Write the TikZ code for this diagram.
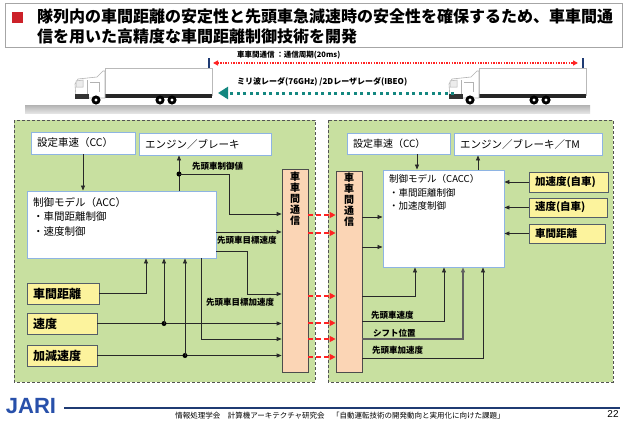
\documentclass[tikz,border=0pt]{standalone}
\usepackage{fontspec}
\setmainfont{Noto Sans CJK JP}
\newfontfamily\logofont{Liberation Sans}
\usetikzlibrary{arrows.meta,calc}

\definecolor{panelgreen}{RGB}{200,224,160}
\definecolor{peach}{RGB}{251,213,181}
\definecolor{softyellow}{RGB}{252,243,157}
\definecolor{boxblue}{RGB}{142,180,227}
\definecolor{slateline}{RGB}{84,94,104}
\definecolor{titlered}{RGB}{204,33,41}
\definecolor{linkred}{RGB}{255,35,35}
\definecolor{radarteal}{RGB}{20,135,128}
\definecolor{navyline}{RGB}{31,59,115}
\definecolor{wire}{RGB}{40,40,40}
\definecolor{jariblue}{RGB}{40,80,170}

\newcommand{\fsz}[1]{\fontsize{#1}{#1}\selectfont}

\tikzset{
  panel/.style={draw=gray!65!black, fill=panelgreen, line width=0.8pt, dash pattern=on 3pt off 2pt},
  wbox/.style={draw=boxblue, fill=white, line width=0.9pt, inner xsep=6pt, inner ysep=0pt, align=left, font=\fsz{10.5}},
  ybox/.style={draw=slateline, fill=softyellow, line width=0.9pt, inner xsep=6pt, inner ysep=0pt, align=left},
  commbox/.style={draw=gray!60!black, fill=peach, line width=0.8pt},
  vtext/.style={align=center, font=\fontsize{10}{11}\selectfont\bfseries, inner sep=0pt},
  sig/.style={draw=wire, line width=0.8pt, -{Triangle[length=5pt,width=4pt]}},
  link/.style={draw=linkred, line width=1.6pt, dash pattern=on 5pt off 3pt, -{Triangle[length=6pt,width=6pt]}},
  jdot/.style={circle, fill=black, inner sep=0pt, minimum size=5pt},
  lbl/.style={font=\fsz{8.5}\bfseries, inner sep=0pt},
  lorry/.pic={
    % trailer body
    \draw[gray!55, fill=white, line width=0.6pt] (30,0) rectangle (137,27);
    % chassis rail
    \fill[black!85] (13,26) rectangle (137,30);
    % cab with roof fairing
    \draw[gray!60, fill=white, line width=0.6pt]
      (1,30) -- (0,16) -- (3,11) -- (22,9) -- (28,3) -- (30,3) -- (30,30) -- cycle;
    \draw[gray!60, fill=gray!15, line width=0.5pt] (1,13) -- (8,12) -- (8,19) -- (1,19) -- cycle;
    \draw[gray!60, line width=0.5pt] (12,12) -- (12,26) (15,14) -- (24,14) -- (24,24);
    \fill[black!80] (0,26) rectangle (14,31);
    % wheels
    \foreach \wx in {21,85,97} {
      \fill[black] (\wx,32) circle (4.6);
      \fill[white] (\wx,32) circle (1.6);
    }
  }
}

\begin{document}
\begin{tikzpicture}[x=1pt,y=-1pt]
\useasboundingbox (0,0) rectangle (627,423);
\fill[white] (0,0) rectangle (627,423);

% ---------- heading ----------
\node[draw=gray!70, line width=0.8pt, minimum width=617pt, minimum height=44pt, inner sep=0pt] (head) at (313.5,25.5) {};
\node[fill=titlered, minimum size=11pt, inner sep=0pt] (hmark) at (17.5,17.5) {};
\node[anchor=west, align=left, font=\fontsize{16}{19.5}\selectfont\bfseries, inner sep=0pt] (htext) at (37,26.5)
  {隊列内の車間距離の安定性と先頭車急減速時の安全性を確保するため、車車間通\\信を用いた高精度な車間距離制御技術を開発};

% ---------- platoon sketch ----------
\shade[top color=gray!60, bottom color=gray!22] (25,105) rectangle (590,113);
\pic at (75,68) {lorry};
\pic at (449,68) {lorry};

\coordinate (tL1) at (209,58); \coordinate (tL2) at (209,68);
\coordinate (tR1) at (583,58); \coordinate (tR2) at (583,68);
\draw[navyline, line width=1.6pt] (tL1) -- (tL2);
\draw[navyline, line width=1.6pt] (tR1) -- (tR2);

\coordinate (rl) at (213,63); \coordinate (rr) at (578,63);
\draw[linkred, line width=1.3pt, dash pattern=on 1.4pt off 1.2pt,
      {Triangle[length=5pt,width=5pt]}-{Triangle[length=5pt,width=5pt]}] (rl) -- (rr);
\node[anchor=west, font=\fsz{7.5}\bfseries, inner sep=0pt] (commtxt) at (237,55) {車車間通信 ：通信周期(20ms)};

\coordinate (ml) at (218,93); \coordinate (mr) at (454,93);
\draw[radarteal, line width=3pt, dash pattern=on 3pt off 3.5pt, -{Triangle[length=10pt,width=12pt]}] (mr) -- (ml);
\node[anchor=west, font=\fsz{8}\bfseries, inner sep=0pt] (radartxt) at (237,82) {ミリ波レーダ(76GHz) /2Dレーザレーダ(IBEO)};

% ---------- vehicle panels ----------
\draw[panel] (14,120) rectangle (315,382);
\draw[panel] (328,120) rectangle (613,382);

% ---------- leading vehicle (ACC) ----------
\node[wbox, minimum width=104pt, minimum height=22pt, text width=92pt] (cc1) at (83,143) {設定車速（CC）};
\node[wbox, minimum width=132pt, minimum height=22pt, text width=120pt] (eng1) at (205,144) {エンジン／ブレーキ};
\node[wbox, minimum width=189pt, minimum height=67pt] (acc) at (121.5,224.5) {};
\node[anchor=north west, align=left, font=\fontsize{10.5}{14.5}\selectfont, inner sep=0pt] (acctxt) at (33,197)
  {制御モデル（ACC）\\・車間距離制御\\・速度制御};

\node[commbox, minimum width=26pt, minimum height=203pt] (comm1) at (295,270.5) {};
\node[vtext, anchor=north] (comm1txt) at (295,172) {車\\車\\間\\通\\信};

\node[ybox, font=\fsz{12}\bfseries, minimum width=72pt, minimum height=21pt, text width=60pt] (gap1) at (63,293.5) {車間距離};
\node[ybox, font=\fsz{12}\bfseries, minimum width=70pt, minimum height=21pt, text width=58pt] (spd1) at (62,323.5) {速度};
\node[ybox, font=\fsz{12}\bfseries, minimum width=70pt, minimum height=21pt, text width=58pt] (acl1) at (62,355.5) {加減速度};

\draw[sig] (cc1.south) -- (cc1.south |- acc.north);

\coordinate (k1) at (179,174);
\draw[sig] (k1 |- acc.north) -- (k1 |- eng1.south);
\node[jdot] (j1) at (k1) {};
\coordinate (k2) at (229,214);
\draw[sig] (j1.center) -| (k2) -- (k2 -| comm1.west);
\node[lbl, anchor=west] (l1) at (192,166) {先頭車制御値};

\coordinate (k3) at (0,232);
\draw[sig] (acc.east |- k3) -- (comm1.west |- k3);
\node[lbl, anchor=west] (l2) at (217,240) {先頭車目標速度};

\coordinate (k4) at (247,251);
\coordinate (k5) at (247,294);
\draw[sig] (acc.east |- k4) -- (k4) -- (k5) -- (comm1.west |- k5);
\node[lbl, anchor=west] (l3) at (206,302) {先頭車目標加速度};

\coordinate (k6) at (201,339);
\draw[sig] (acc.south -| k6) -- (k6) -- (comm1.west |- k6);

\coordinate (k7) at (146,0);
\draw[sig] (gap1.east) -| (acc.south -| k7);

\coordinate (k8) at (164,0);
\draw[sig] (spd1.east) -- (spd1.east -| comm1.west);
\node[jdot] (j2) at (spd1.east -| k8) {};
\draw[sig] (j2.center) -- (j2 |- acc.south);

\coordinate (k9) at (185,0);
\draw[sig] (acl1.east) -- (acl1.east -| comm1.west);
\node[jdot] (j3) at (acl1.east -| k9) {};
\draw[sig] (j3.center) -- (j3 |- acc.south);

% ---------- following vehicle (CACC) ----------
\node[commbox, minimum width=26pt, minimum height=201pt] (comm2) at (349,271.5) {};
\node[vtext, anchor=north] (comm2txt) at (349,173) {車\\車\\間\\通\\信};

\node[wbox, font=\fsz{10}, minimum width=103pt, minimum height=21pt, text width=91pt] (cc2) at (398.5,143.5) {設定車速（CC）};
\node[wbox, minimum width=148pt, minimum height=22pt, text width=136pt] (eng2) at (528,144) {エンジン／ブレーキ／TM};
\node[wbox, minimum width=121pt, minimum height=97pt] (cacc) at (443.5,218.5) {};
\node[anchor=north west, align=left, font=\fontsize{9.5}{13.5}\selectfont, inner sep=0pt] (cacctxt) at (389,174.5)
  {制御モデル（CACC）\\・車間距離制御\\・加速度制御};

\node[ybox, font=\fsz{10.5}\bfseries, minimum width=79pt, minimum height=20pt, text width=67pt] (acc2) at (568.5,182) {加速度(自車)};
\node[ybox, font=\fsz{10.5}\bfseries, minimum width=78pt, minimum height=19pt, text width=66pt] (spd2) at (568,207.5) {速度(自車)};
\node[ybox, font=\fsz{10.5}\bfseries, minimum width=76pt, minimum height=19pt, text width=64pt] (gap2) at (567,233.5) {車間距離};

\coordinate (m1) at (417,0);
\draw[sig] (cc2.south -| m1) -- (cacc.north -| m1);
\coordinate (m2) at (478,0);
\draw[sig] (cacc.north -| m2) -- (eng2.south -| m2);

\draw[sig] (acc2.west) -- (acc2.west -| cacc.east);
\draw[sig] (spd2.west) -- (spd2.west -| cacc.east);
\draw[sig] (gap2.west) -- (gap2.west -| cacc.east);

\coordinate (m3) at (0,217);
\draw[sig] (comm2.east |- m3) -- (cacc.west |- m3);
\coordinate (m4) at (0,247);
\draw[sig] (comm2.east |- m4) -- (cacc.west |- m4);

\coordinate (m5) at (415,296);
\draw[sig] (comm2.east |- m5) -- (m5) -- (m5 |- cacc.south);
\coordinate (m6) at (444,321);
\draw[sig] (comm2.east |- m6) -- (m6) -- (m6 |- cacc.south);
\node[lbl, anchor=west] (r1) at (371,315) {先頭車速度};
\coordinate (m7) at (463,339);
\draw[sig, draw=gray!75!black, line width=1.2pt] (comm2.east |- m7) -- (m7) -- (m7 |- cacc.south);
\node[lbl, anchor=west] (r2) at (373,333) {シフト位置};
\coordinate (m8) at (483,358);
\draw[sig] (comm2.east |- m8) -- (m8) -- (m8 |- cacc.south);
\node[lbl, anchor=west] (r3) at (372,350) {先頭車加速度};

% ---------- inter-vehicle radio links ----------
\foreach \yy [count=\i] in {215,233,296,323,339,357} {
  \coordinate (ry\i) at (0,\yy);
  \draw[link] (comm1.east |- ry\i) -- (comm2.west |- ry\i);
}

% ---------- footer ----------
\node[font=\logofont\fsz{22}\bfseries, text=jariblue, inner sep=0pt] (logo) at (31,406) {JARI};
\coordinate (fl) at (64,408); \coordinate (fr) at (620,408);
\draw[navyline, line width=2.2pt] (fl) -- (fr);
\node[font=\fsz{7.5}, inner sep=0pt] (foot) at (340,415.5)
  {情報処理学会　計算機アーキテクチャ研究会　「自動運転技術の開発動向と実用化に向けた課題」};
\node[font=\logofont\fsz{10}, inner sep=0pt] (pg) at (613,414) {22};
\end{tikzpicture}
\end{document}
